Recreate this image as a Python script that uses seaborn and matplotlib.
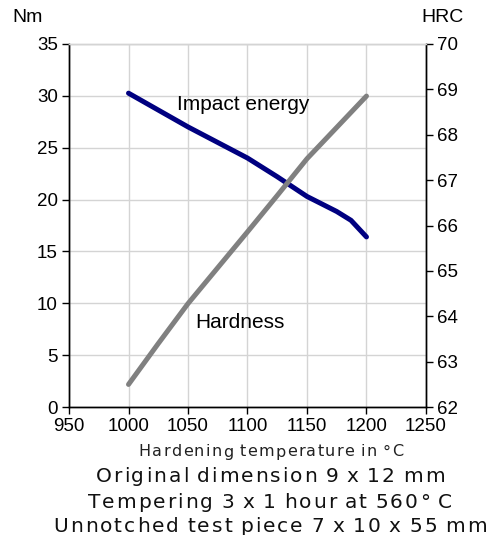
import numpy as np
import pandas as pd
import matplotlib.pyplot as plt
import seaborn as sns
from matplotlib.ft2font import FT2Font
from matplotlib.font_manager import findfont, FontProperties

# Values
impact_temp = [1000, 1050, 1100, 1125, 1150, 1175, 1187, 1200]
impact_nm = [30.25, 27.0, 24.0, 22.2, 20.3, 18.85, 18.0, 16.4]

hardness_temp = [1000, 1025, 1050, 1075, 1100, 1125, 1150, 1175, 1200]
hardness_hrc = [62.5, 63.4, 64.28, 65.07, 65.86, 66.66, 67.47, 68.16, 68.85]

x_ticks = [950, 1000, 1050, 1100, 1150, 1200, 1250]
left_ticks = [0, 5, 10, 15, 20, 25, 30, 35]
right_ticks = [62, 63, 64, 65, 66, 67, 68, 69, 70]

x_label = "Hardening temperature in °C"
caption = ["Original dimension 9 x 12 mm",
           "Tempering 3 x 1 hour at 560° C",
           "Unnotched test piece 7 x 10 x 55 mm"]

W, H, DPI = 493, 535, 100


def spaced_text(fig, x_px, baseline_px, s, size, track, color):
    # letter-spaced text, centred on x_px (matplotlib has no tracking option)
    font = FT2Font(findfont(FontProperties(family='DejaVu Sans')))
    font.set_size(size, DPI)
    adv = []
    for c in s:
        a = font.load_char(ord(c)).linearHoriAdvance / 65536
        adv.append(a * 0.7 if c == ' ' else a)
    x = x_px - (sum(adv) + track * (len(s) - 1)) / 2
    for c, a in zip(s, adv):
        if c != ' ':
            fig.text(x / W, 1 - baseline_px / H, c, fontsize=size, ha='left',
                     va='baseline', family='DejaVu Sans', color=color)
        x += a + track


sns.set_style("white")
plt.rcParams['font.family'] = ['Liberation Sans', 'DejaVu Sans']
plt.rcParams['text.color'] = 'black'

df_impact = pd.DataFrame({'temp': impact_temp, 'nm': impact_nm})
df_hard = pd.DataFrame({'temp': hardness_temp, 'hrc': hardness_hrc})

fig = plt.figure(figsize=(W / DPI, H / DPI), dpi=DPI)
ax = fig.add_axes([0.140, 0.239, 0.724, 0.679])
ax2 = ax.twinx()

sns.lineplot(data=df_impact, x='temp', y='nm', ax=ax, color='#000080',
             linewidth=3.6, solid_capstyle='round', solid_joinstyle='round')
sns.lineplot(data=df_hard, x='temp', y='hrc', ax=ax2, color='#808080',
             linewidth=3.6, solid_capstyle='round', solid_joinstyle='round')

ax.set_xlim(950, 1250)
ax.set_ylim(0, 35)
ax2.set_ylim(62, 70)
ax.set_xticks(x_ticks)
ax.set_yticks(left_ticks)
ax2.set_yticks(right_ticks)

ax.grid(True, color='#d4d4d4', linewidth=1)
ax2.grid(False)
ax.set_xlabel('')
ax.set_ylabel('')
ax2.set_ylabel('')

for a in (ax, ax2):
    a.tick_params(axis='both', labelsize=13.5, length=5, width=1,
                  direction='out', color='black', labelcolor='black', pad=3)
    for s in a.spines.values():
        s.set_color('black')
        s.set_linewidth(1)
    a.spines['top'].set_color('#d4d4d4')
ax.tick_params(axis='y', left=True)
ax.tick_params(axis='x', bottom=True)
ax2.tick_params(axis='y', right=True)

fig.text(27.5 / W, 1 - 18 / H, 'Nm', fontsize=14, ha='center', va='center')
fig.text(442.5 / W, 1 - 18 / H, 'HRC', fontsize=14, ha='center', va='center')

ax.text(1041, 29.2, 'Impact energy', fontsize=15, ha='left', va='center')
ax.text(1056, 8.2, 'Hardness', fontsize=15, ha='left', va='center')

spaced_text(fig, 271, 456.5, x_label, 11.5, 1.4, '#222222')
for i, line in enumerate(caption):
    spaced_text(fig, 270, 482.5 + 25 * i, line, 14.5, 2.0, '#111111')

fig.savefig('out.png', dpi=DPI)
plt.close(fig)
